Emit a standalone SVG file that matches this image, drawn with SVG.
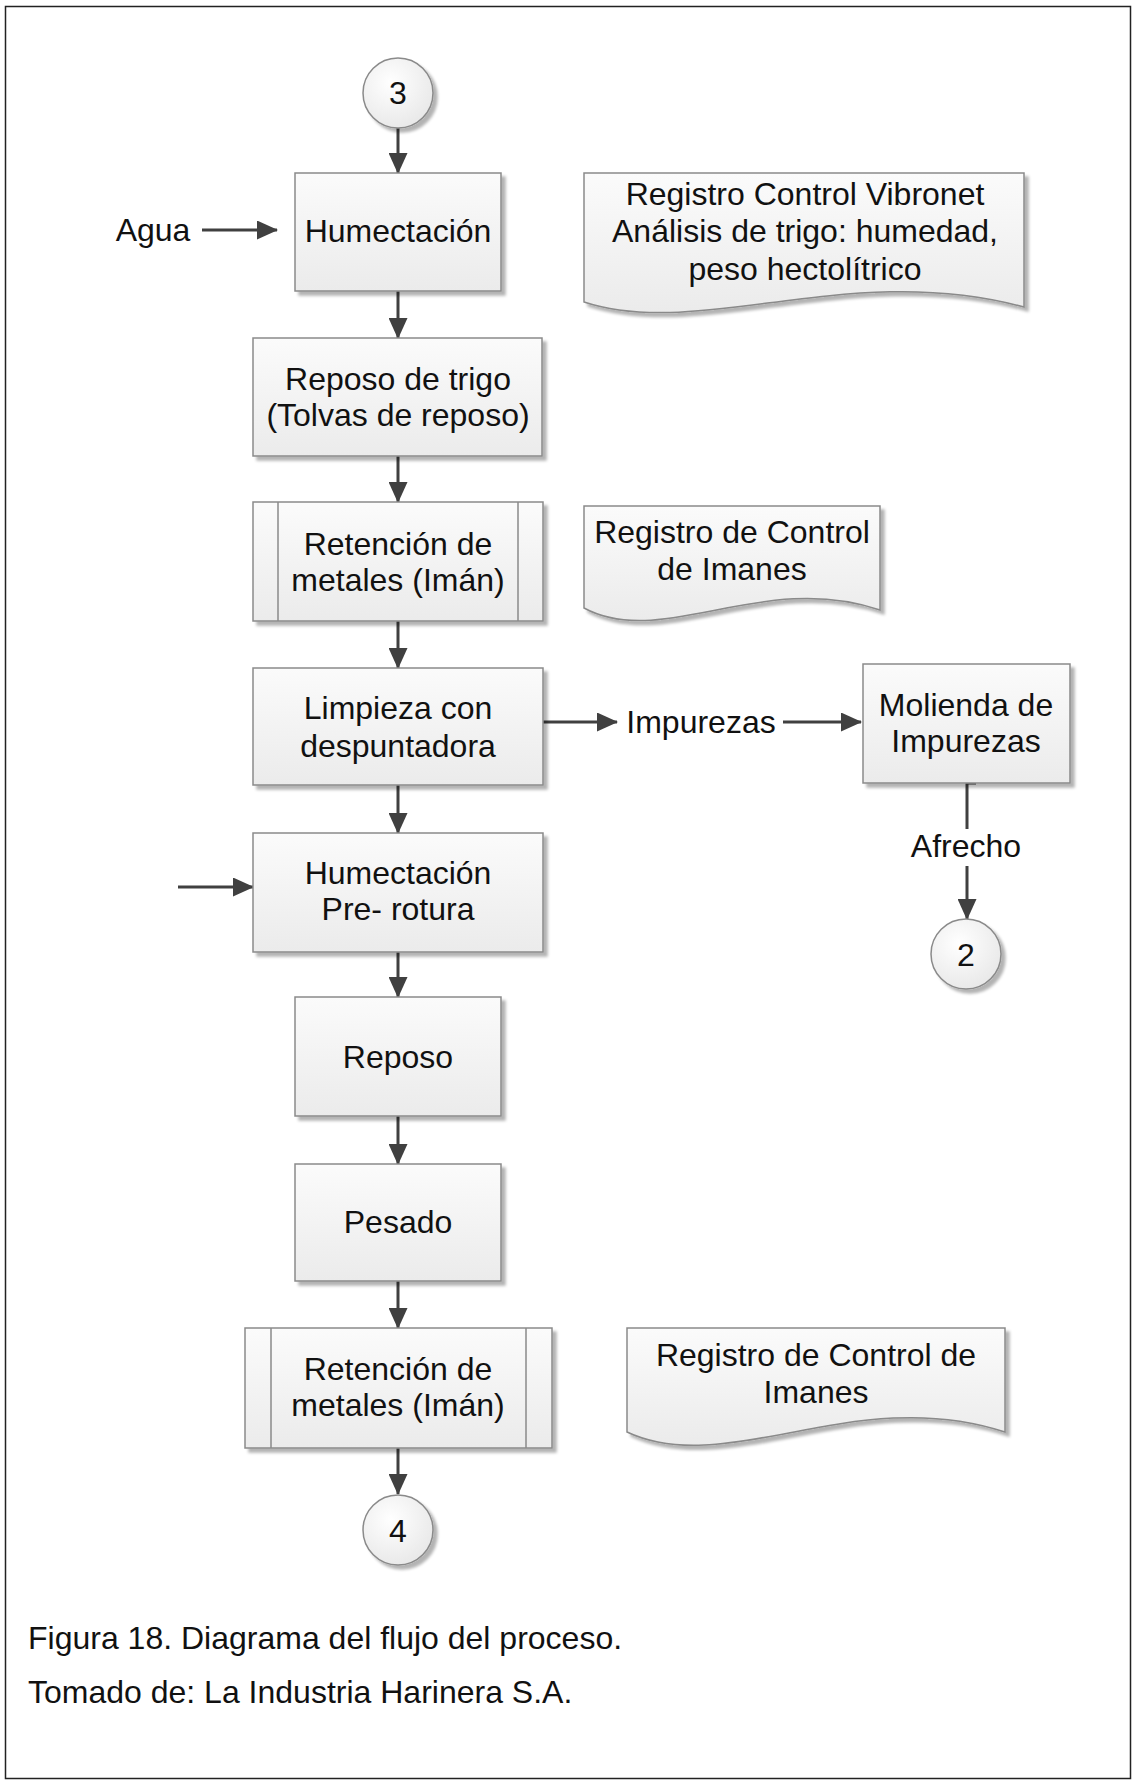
<svg xmlns="http://www.w3.org/2000/svg" width="1132" height="1780" viewBox="0 0 1132 1780">
  <style>
    .txt { font-family: "Liberation Sans", Arial, sans-serif; font-size: 32px; fill: #111; text-anchor: middle; }
    .cap { font-family: "Liberation Sans", Arial, sans-serif; font-size: 32px; fill: #111; }
    .shape { fill: url(#boxFill); stroke: #8a8a8a; stroke-width: 1.5; filter: url(#shadow); }
    .inner { stroke: #8a8a8a; stroke-width: 1.5; fill: none; }
    .flow { stroke: #404040; stroke-width: 3; fill: none; marker-end: url(#arrow); }
  </style>
  <defs>
    <linearGradient id="boxFill" x1="0" y1="0" x2="0" y2="1">
      <stop offset="0" stop-color="#fbfbfb"/>
      <stop offset="1" stop-color="#ebebeb"/>
    </linearGradient>
    <radialGradient id="circleFill" cx="0.4" cy="0.35" r="0.75">
      <stop offset="0" stop-color="#ffffff"/>
      <stop offset="1" stop-color="#e6e6e6"/>
    </radialGradient>
    <filter id="shadow" x="-10%" y="-10%" width="130%" height="130%">
      <feGaussianBlur in="SourceAlpha" stdDeviation="1.8" result="b"/>
      <feOffset in="b" dx="4" dy="4" result="o"/>
      <feComponentTransfer in="o" result="s">
        <feFuncA type="linear" slope="0.3"/>
      </feComponentTransfer>
      <feMerge>
        <feMergeNode in="s"/>
        <feMergeNode in="SourceGraphic"/>
      </feMerge>
    </filter>
    <marker id="arrow" markerUnits="userSpaceOnUse" markerWidth="21" markerHeight="19" refX="20" refY="9.5" orient="auto">
      <path d="M0,0 L21,9.5 L0,19 Z" fill="#404040"/>
    </marker>
  </defs>

  <!-- page frame -->
  <rect x="5.5" y="6.5" width="1125" height="1772" fill="#ffffff" stroke="#222" stroke-width="1.5"/>

  <!-- connectors and their labels -->
  <g id="connectors">
    <line class="flow" x1="398" y1="128" x2="398" y2="173"/>
    <line class="flow" x1="398" y1="291" x2="398" y2="338"/>
    <line class="flow" x1="398" y1="456" x2="398" y2="502"/>
    <line class="flow" x1="398" y1="621" x2="398" y2="668"/>
    <line class="flow" x1="398" y1="785" x2="398" y2="833"/>
    <line class="flow" x1="398" y1="952" x2="398" y2="997"/>
    <line class="flow" x1="398" y1="1116" x2="398" y2="1164"/>
    <line class="flow" x1="398" y1="1281" x2="398" y2="1328"/>
    <line class="flow" x1="398" y1="1448" x2="398" y2="1494"/>
    <line class="flow" x1="202" y1="230" x2="277" y2="230"/>
    <line class="flow" x1="543" y1="722" x2="617" y2="722"/>
    <line class="flow" x1="783" y1="722" x2="861" y2="722"/>
    <line class="flow" x1="178" y1="887" x2="253" y2="887"/>
    <path class="flow" d="M976,783 H967 V919"/>
    <rect x="909" y="829" width="115" height="37" fill="#ffffff"/>
    <text class="txt" x="966" y="857">Afrecho</text>
    <text class="txt" x="153" y="241">Agua</text>
    <text class="txt" x="701" y="733">Impurezas</text>
  </g>

  <g id="c3">
    <circle class="shape" cx="398" cy="93" r="35" style="fill:url(#circleFill)"/>
    <text class="txt" x="398" y="104">3</text>
  </g>

  <g id="humectacion">
    <rect class="shape" x="295" y="173" width="206" height="118"/>
    <text class="txt" x="398" y="242">Humectación</text>
  </g>

  <g id="doc-vibronet">
    <path class="shape" d="M584,173 H1024 V307 C850,260 700,340 584,302 Z"/>
    <text class="txt" x="805" y="205">Registro Control Vibronet</text>
    <text class="txt" x="805" y="242">Análisis de trigo: humedad,</text>
    <text class="txt" x="805" y="280">peso hectolítrico</text>
  </g>

  <g id="reposo-trigo">
    <rect class="shape" x="253" y="338" width="289" height="118"/>
    <text class="txt" x="398" y="390">Reposo de trigo</text>
    <text class="txt" x="398" y="426">(Tolvas de reposo)</text>
  </g>

  <g id="retencion-1">
    <rect class="shape" x="253" y="502" width="290" height="119"/>
    <line class="inner" x1="278" y1="502" x2="278" y2="621"/>
    <line class="inner" x1="518" y1="502" x2="518" y2="621"/>
    <text class="txt" x="398" y="555">Retención de</text>
    <text class="txt" x="398" y="591">metales (Imán)</text>
  </g>

  <g id="doc-imanes-1">
    <path class="shape" d="M584,506 H880 V610 C763,570 662,650 584,608 Z"/>
    <text class="txt" x="732" y="543">Registro de Control</text>
    <text class="txt" x="732" y="580">de Imanes</text>
  </g>

  <g id="limpieza">
    <rect class="shape" x="253" y="668" width="290" height="117"/>
    <text class="txt" x="398" y="719">Limpieza con</text>
    <text class="txt" x="398" y="757">despuntadora</text>
  </g>

  <g id="molienda">
    <rect class="shape" x="863" y="664" width="207" height="119"/>
    <text class="txt" x="966" y="716">Molienda de</text>
    <text class="txt" x="966" y="752">Impurezas</text>
  </g>

  <g id="c2">
    <circle class="shape" cx="966" cy="954" r="35" style="fill:url(#circleFill)"/>
    <text class="txt" x="966" y="966">2</text>
  </g>

  <g id="humectacion-prerotura">
    <rect class="shape" x="253" y="833" width="290" height="119"/>
    <text class="txt" x="398" y="884">Humectación</text>
    <text class="txt" x="398" y="920">Pre- rotura</text>
  </g>

  <g id="reposo">
    <rect class="shape" x="295" y="997" width="206" height="119"/>
    <text class="txt" x="398" y="1068">Reposo</text>
  </g>

  <g id="pesado">
    <rect class="shape" x="295" y="1164" width="206" height="117"/>
    <text class="txt" x="398" y="1233">Pesado</text>
  </g>

  <g id="retencion-2">
    <rect class="shape" x="245" y="1328" width="307" height="120"/>
    <line class="inner" x1="271" y1="1328" x2="271" y2="1448"/>
    <line class="inner" x1="526" y1="1328" x2="526" y2="1448"/>
    <text class="txt" x="398" y="1380">Retención de</text>
    <text class="txt" x="398" y="1416">metales (Imán)</text>
  </g>

  <g id="doc-imanes-2">
    <path class="shape" d="M627,1328 H1005 V1432 C856,1383 727,1479 627,1432 Z"/>
    <text class="txt" x="816" y="1366">Registro de Control de</text>
    <text class="txt" x="816" y="1403">Imanes</text>
  </g>

  <g id="c4">
    <circle class="shape" cx="398" cy="1530" r="35" style="fill:url(#circleFill)"/>
    <text class="txt" x="398" y="1542">4</text>
  </g>

  <g id="caption">
    <text class="cap" x="28" y="1649">Figura 18. Diagrama del flujo del proceso.</text>
    <text class="cap" x="28" y="1703">Tomado de: La Industria Harinera S.A.</text>
  </g>
</svg>
